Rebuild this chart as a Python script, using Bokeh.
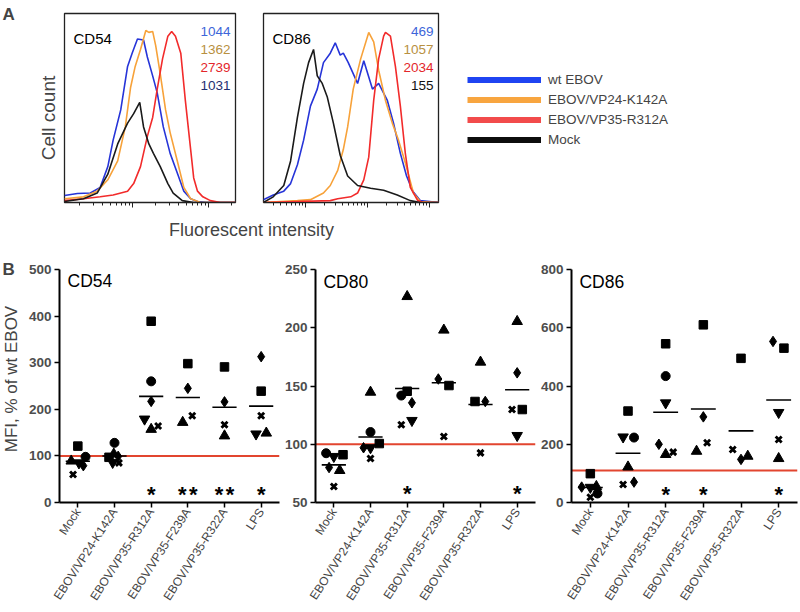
import math
import numpy as np
from bokeh.plotting import figure
from bokeh.models import Range1d, FixedTicker, Label, Span, Legend, LegendItem
from bokeh.layouts import row, column
from bokeh.core.properties import value
from bokeh.embed import file_html
from bokeh.resources import INLINE

FONT = "Liberation Sans"
nan = float("nan")

# ---------------- Panel A: flow histograms (x = log10 fluorescence, y = % of max) ----------------
series_names = ["wt EBOV", "EBOV/VP24-K142A", "EBOV/VP35-R312A", "Mock"]

cd54_wt_x = [-0.90, -0.73, -0.56, -0.43, -0.33, -0.26, -0.16, -0.07, -0.01, 0.06, 0.14, 0.19, 0.26, 0.32, 0.40, 0.49, 0.59, 0.67, 0.76, 0.85, 0.96, 1.35]
cd54_wt_y = [3.7, 4.8, 5.0, 8.0, 19, 33, 49, 72, 79, 86.5, 86, 77, 67, 58, 40, 26, 15, 6, 2, 0.5, 0, 0]
cd54_k142a_x = [-0.90, -0.65, -0.47, -0.33, -0.20, -0.10, -0.03, 0.03, 0.10, 0.17, 0.21, 0.26, 0.30, 0.36, 0.43, 0.49, 0.59, 0.67, 0.76, 0.89, 1.35]
cd54_k142a_y = [2, 3, 6, 12, 22, 40, 61, 72, 81, 91, 90, 90.5, 83, 68, 49, 37, 21, 8, 2, 0, 0]
cd54_r312a_x = [-0.90, -0.65, -0.43, -0.26, -0.07, 0.01, 0.10, 0.19, 0.26, 0.32, 0.39, 0.46, 0.51, 0.56, 0.63, 0.69, 0.76, 0.80, 0.85, 0.92, 1.02, 1.15, 1.35]
cd54_r312a_y = [1, 2, 3, 4, 6, 10, 19, 35, 45, 60, 76, 88, 90.5, 88, 79, 54, 28, 13, 6, 3, 1, 0, 0]
cd54_mock_x = [-0.90, -0.65, -0.47, -0.33, -0.20, -0.07, 0.01, 0.09, 0.14, 0.21, 0.27, 0.36, 0.46, 0.53, 0.65, 0.80, 1.35]
cd54_mock_y = [0.5, 2, 5, 15, 31, 42, 47, 53, 40, 31, 26, 19, 10, 5, 1, 0, 0]

cd86_wt_x = [-0.68, -0.52, -0.35, -0.24, -0.13, -0.03, 0.08, 0.19, 0.29, 0.40, 0.48, 0.56, 0.61, 0.69, 0.84, 0.94, 1.08, 1.18, 1.32, 1.42, 1.53, 1.63, 1.73, 1.85, 2.15]
cd86_wt_y = [1.5, 4, 6, 10, 20, 33, 51, 60, 74, 79, 84.5, 78, 79, 74, 63, 75, 60, 63, 54, 42, 26, 14, 6, 1, 0]
cd86_k142a_x = [-0.68, -0.13, 0.08, 0.29, 0.40, 0.52, 0.61, 0.68, 0.77, 0.89, 1.02, 1.10, 1.18, 1.29, 1.40, 1.50, 1.61, 1.74, 1.85, 2.15]
cd86_k142a_y = [0, 1, 1.5, 5, 9, 17, 28, 40, 60, 76, 90, 85, 70, 54, 42, 33, 21, 5, 0.5, 0]
cd86_r312a_x = [-0.68, 0.40, 0.52, 0.73, 0.84, 0.94, 1.02, 1.10, 1.18, 1.26, 1.29, 1.37, 1.45, 1.53, 1.61, 1.69, 1.81, 1.90, 2.15]
cd86_r312a_y = [0, 1, 2, 3, 5, 12, 24, 54, 76, 88, 90, 88, 72, 51, 26, 8, 1, 0, 0]
cd86_mock_x = [-0.68, -0.52, -0.35, -0.24, -0.13, -0.03, 0.05, 0.13, 0.19, 0.27, 0.35, 0.45, 0.56, 0.68, 0.84, 1.05, 1.26, 1.48, 1.69, 1.85, 2.15]
cd86_mock_y = [0, 3, 9, 22, 45, 63, 74, 81, 67, 63, 56, 42, 25, 14, 9, 7.5, 6.5, 4, 1, 0, 0]

cd54_mfi = ["1044", "1362", "2739", "1031"]
cd86_mfi = ["469", "1057", "2034", "155"]

# ---------------- Panel B: MFI, % of wt EBOV ----------------
categories = ["Mock", "EBOV/VP24-K142A", "EBOV/VP35-R312A",
              "EBOV/VP35-F239A", "EBOV/VP35-R322A", "LPS"]

cd54_square   = [121, 97, 389, 298, 291, 239]
cd54_circle   = [98, 128, 260, nan, nan, nan]
cd54_triangle = [89, 104, 157, 172, 143, 149]
cd54_inverted = [85, 86, 179, nan, nan, 147]
cd54_diamond  = [79, 99, 217, 245, 216, 313]
cd54_cross    = [60, 85, 164, 186, 167, 186]
cd54_stars    = [0, 0, 1, 2, 2, 1]

cd80_square   = [91, 100.6, 145.5, 150.4, 136.7, 129.8]
cd80_circle   = [92.3, 110.5, 141.8, nan, nan, nan]
cd80_triangle = [77.5, 144.7, 226.8, 198, 170.5, 205.4]
cd80_inverted = [89.5, 97, 120.4, nan, nan, 107.5]
cd80_diamond  = [80, 97, 135.6, 156, 136.7, 161.3]
cd80_cross    = [63.7, 87.8, 116.7, 106.6, 92.6, 129.8]
cd80_stars    = [0, 0, 1, 0, 0, 1]

cd86_square   = [99, 314, 545, 610, 495, 530]
cd86_circle   = [31, 223, 434, nan, nan, nan]
cd86_triangle = [55, 122, 165, 176, 159, 151]
cd86_inverted = [52, 225, 342, nan, nan, 309]
cd86_diamond  = [53, 70, 200, 294, 148, 553]
cd86_cross    = [18, 62, 173, 205, 182, 216]
cd86_stars    = [0, 0, 1, 1, 0, 1]

# horizontal jitter of the points within a column (layout only)
cd54_jitter = {"square": [0, -0.15, 0, 0, 0, 0], "circle": [0.21, 0, 0, 0, 0, 0],
               "triangle": [-0.18, -0.02, 0, -0.14, 0, 0.14], "inverted_triangle": [0.03, -0.05, -0.18, 0, 0, -0.14],
               "diamond": [0.15, 0.1, 0, 0, 0, 0], "x": [-0.13, 0.12, 0.19, 0.12, 0, 0]}
cd80_jitter = {"square": [0.25, 0.24, 0, 0.14, -0.15, 0.14], "circle": [-0.21, 0, -0.16, 0, 0, 0],
               "triangle": [0.16, 0, 0, 0, 0, 0], "inverted_triangle": [0, 0, 0.13, 0, 0, 0],
               "diamond": [-0.13, -0.19, 0.13, -0.15, 0.13, 0], "x": [0, 0, -0.16, 0, 0, -0.14]}
cd86_jitter = {"square": [0, 0, 0, 0, 0, 0.14], "circle": [0.19, 0.16, 0, 0, 0, 0],
               "triangle": [0.16, 0, 0, -0.18, 0.18, 0], "inverted_triangle": [0, -0.13, 0, 0, 0, 0],
               "diamond": [-0.23, 0.16, -0.18, 0, 0, -0.15], "x": [0, -0.13, 0.2, 0.1, -0.22, 0]}

HIST_COLORS = ["#2634d8", "#f7a23a", "#f22b2b", "#1a1a1a"]
LEGEND_COLORS = ["#1f44f2", "#f8a53f", "#f24b4b", "#0d0d0d"]
CD54_NUM_COLORS = ["#3d66d9", "#b8903f", "#e3262b", "#1f2f70"]
CD86_NUM_COLORS = ["#3d66d9", "#b8903f", "#e3262b", "#111111"]
MARKERS = {"square": (8.5, 1), "circle": (9, 1), "triangle": (10.5, 1),
           "inverted_triangle": (10.5, 1), "diamond": (10.5, 1), "x": (8.5, 2.9)}


def px2data(px, py, frame, xr, yr):
    l, t, w, h = frame
    return (xr[0] + (px - l) * (xr[1] - xr[0]) / w,
            yr[0] + (t + h - py) * (yr[1] - yr[0]) / h)


def add_text(p, frame, xr, yr, px, py, text, size, color="black", bold=False,
             align="left", baseline="alphabetic", angle=0.0):
    x, y = px2data(px, py, frame, xr, yr)
    p.add_layout(Label(x=x, y=y, text=text, text_font=FONT, text_font_size=f"{size}px",
                       text_color=color, text_font_style="bold" if bold else "normal",
                       text_align=align, text_baseline=baseline, angle=angle))


def blank_fig(w, h):
    p = figure(width=w, height=h, x_range=Range1d(0, w), y_range=Range1d(0, h),
               output_backend="svg", toolbar_location=None, x_axis_location=None,
               y_axis_location=None, min_border=0)
    p.grid.visible = False
    p.outline_line_color = None
    return p


def hist_fig(width, bl, br, frame, xr, decades, curves, title, nums, num_colors, num_right):
    p = figure(width=width, height=212, x_range=Range1d(*xr), y_range=Range1d(0, 100),
               output_backend="svg", toolbar_location=None, y_axis_location=None,
               min_border_left=bl, min_border_right=br, min_border_top=13, min_border_bottom=10)
    p.grid.visible = False
    p.outline_line_color = "#222222"
    p.outline_line_width = 1.3
    ax = p.xaxis[0]
    ax.ticker = FixedTicker(ticks=decades,
                            minor_ticks=[d + math.log10(k) for d in range(-2, 4) for k in range(2, 10)])
    ax.major_label_text_font_size = "1px"
    ax.major_label_text_color = None
    ax.major_label_standoff = 0
    ax.major_tick_out = 5
    ax.major_tick_in = 0
    ax.minor_tick_out = 3
    ax.minor_tick_in = 0
    ax.axis_line_color = "#222222"
    ax.major_tick_line_color = "#222222"
    ax.minor_tick_line_color = "#222222"
    for (xs, ys), c in zip(curves, HIST_COLORS):
        p.line(xs, ys, line_color=c, line_width=1.6)
    yr = (0, 100)
    add_text(p, frame, xr, yr, frame[0] + 9, 38, title, 15)
    for i, (t, c) in enumerate(zip(nums, num_colors)):
        add_text(p, frame, xr, yr, num_right, 31 + 18 * i, t, 13.5, color=c, align="right")
    return p


# ---------------- Panel A figures ----------------
strip_a = blank_fig(60, 240)
strip_a.add_layout(Label(x=2, y=226, text="A", text_font=FONT, text_font_size="17px",
                         text_font_style="bold", text_align="left", text_baseline="alphabetic"))
strip_a.add_layout(Label(x=48, y=122.5, text="Cell count", text_font=FONT, text_font_size="19px",
                         text_align="center", text_baseline="middle", angle=math.pi / 2))

H1_FRAME = (64, 13, 171, 189)
H1_XR = (-0.9, 1.35)
h1 = hist_fig(189, 4, 14, H1_FRAME, H1_XR, [-1, 0, 1, 2],
              [(cd54_wt_x, cd54_wt_y), (cd54_k142a_x, cd54_k142a_y),
               (cd54_r312a_x, cd54_r312a_y), (cd54_mock_x, cd54_mock_y)],
              "CD54", cd54_mfi, CD54_NUM_COLORS, 230)

H2_FRAME = (263, 13, 175, 189)
H2_XR = (-0.677, 2.145)
h2 = hist_fig(199, 14, 10, H2_FRAME, H2_XR, [-1, 0, 1, 2],
              [(cd86_wt_x, cd86_wt_y), (cd86_k142a_x, cd86_k142a_y),
               (cd86_r312a_x, cd86_r312a_y), (cd86_mock_x, cd86_mock_y)],
              "CD86", cd86_mfi, CD86_NUM_COLORS, 433)

xl = blank_fig(388, 28)
xl.add_layout(Label(x=191, y=10.5, text="Fluorescent intensity", text_font=FONT,
                    text_font_size="18px", text_align="center", text_baseline="alphabetic"))

leg = blank_fig(350, 240)
items = []
for name, c in zip(series_names, LEGEND_COLORS):
    r = leg.line(x=[-60, -50], y=[-60, -60], line_color=c, line_width=6)
    items.append(LegendItem(label=name, renderers=[r]))
legend = Legend(items=items, location=(19, 91), padding=0, margin=0, spacing=1,
                glyph_width=74, glyph_height=19, label_height=19, label_standoff=7,
                label_text_font=FONT, label_text_font_size="13.5px",
                border_line_color=None, background_fill_alpha=0)
leg.add_layout(legend)


# ---------------- Panel B figures ----------------
def scatter_fig(width, bl, br, bb, frame, xr, yr, yticks, donors, jitter, stars,
                star_level, ref_level, title):
    p = figure(width=width, height=371, x_range=Range1d(*xr), y_range=Range1d(*yr),
               output_backend="svg", toolbar_location=None,
               min_border_left=bl, min_border_right=br, min_border_top=29, min_border_bottom=bb)
    p.grid.visible = False
    p.outline_line_color = None
    p.add_layout(Span(location=ref_level, dimension="width", line_color="#e2452f",
                      line_width=2, level="underlay"))
    for shape, vals in donors.items():
        size, lw = MARKERS[shape]
        xs = [i + o for i, (v, o) in enumerate(zip(vals, jitter[shape])) if not math.isnan(v)]
        ys = [v for v in vals if not math.isnan(v)]
        p.scatter(xs, ys, marker=shape, size=size, fill_color="black",
                  line_color="black", line_width=lw)
    means = np.nanmean(np.array(list(donors.values()), dtype=float), axis=0)
    idx = np.arange(len(categories))
    p.segment(x0=idx - 0.33, y0=means, x1=idx + 0.33, y1=means,
              line_color="black", line_width=1.6)
    sx = []
    for i, n in enumerate(stars):
        if n == 1:
            sx += [i]
        elif n == 2:
            sx += [i - 0.15, i + 0.15]
    sy = [star_level] * len(sx)
    p.text(x=sx, y=sy, text=["*"] * len(sx), text_font=value(FONT), text_font_size="22px",
           text_font_style="bold", text_align="center", text_baseline="middle")
    for ax in (p.xaxis[0], p.yaxis[0]):
        ax.axis_line_width = 2
        ax.axis_line_color = "black"
        ax.major_tick_line_width = 1.5
        ax.major_tick_out = 5
        ax.major_tick_in = 0
        ax.minor_tick_line_color = None
    p.yaxis.ticker = FixedTicker(ticks=yticks)
    p.yaxis.major_label_text_font = FONT
    p.yaxis.major_label_text_font_size = "13.5px"
    p.yaxis.major_label_text_font_style = "bold"
    p.yaxis.major_label_text_color = "#4d4d4d"
    p.yaxis.major_label_standoff = 3
    p.xaxis.ticker = FixedTicker(ticks=list(range(len(categories))))
    p.xaxis.major_label_overrides = {i: c for i, c in enumerate(categories)}
    p.xaxis.major_label_orientation = math.radians(57)
    p.xaxis.major_label_text_font = FONT
    p.xaxis.major_label_text_font_size = "12px"
    p.xaxis.major_label_standoff = 2
    add_text(p, frame, xr, yr, frame[0] + 8, 281, title, 17.5)
    return p


def donors_of(sq, ci, tr, inv, di, cr):
    return {"square": sq, "circle": ci, "triangle": tr,
            "inverted_triangle": inv, "diamond": di, "x": cr}


strip_b = blank_fig(22, 371)
strip_b.add_layout(Label(x=2, y=342, text="B", text_font=FONT, text_font_size="17px",
                         text_font_style="bold", text_align="left", text_baseline="alphabetic"))
strip_b.add_layout(Label(x=11, y=232.5, text="MFI, % of wt EBOV", text_font=FONT,
                         text_font_size="17px", text_align="center", text_baseline="middle",
                         angle=math.pi / 2))

S1_FRAME, S1_XR, S1_YR = (59, 269, 220, 235), (-0.5, 5.5), (0, 500)
s1 = scatter_fig(259, 37, 2, 107, S1_FRAME, S1_XR, S1_YR, [0, 100, 200, 300, 400, 500],
                 donors_of(cd54_square, cd54_circle, cd54_triangle, cd54_inverted, cd54_diamond, cd54_cross),
                 cd54_jitter, cd54_stars, 18, 100, "CD54")

S2_FRAME, S2_XR, S2_YR = (312, 269, 223, 233), (-0.5, 5.5), (50, 250)
s2 = scatter_fig(256, 31, 2, 109, S2_FRAME, S2_XR, S2_YR, [50, 100, 150, 200, 250],
                 donors_of(cd80_square, cd80_circle, cd80_triangle, cd80_inverted, cd80_diamond, cd80_cross),
                 cd80_jitter, cd80_stars, 58, 100, "CD80")

S3_FRAME, S3_XR, S3_YR = (568, 269, 229, 233), (-0.5, 5.5), (0, 800)
s3 = scatter_fig(261, 31, 1, 109, S3_FRAME, S3_XR, S3_YR, [0, 200, 400, 600, 800],
                 donors_of(cd86_square, cd86_circle, cd86_triangle, cd86_inverted, cd86_diamond, cd86_cross),
                 cd86_jitter, cd86_stars, 28, 110, "CD86")

top = row(strip_a, column(row(h1, h2), xl), leg)
bottom = row(column(strip_b), s1, s2, s3)
page = column(top, bottom)

open("out.html", "w").write(file_html(page, INLINE))
